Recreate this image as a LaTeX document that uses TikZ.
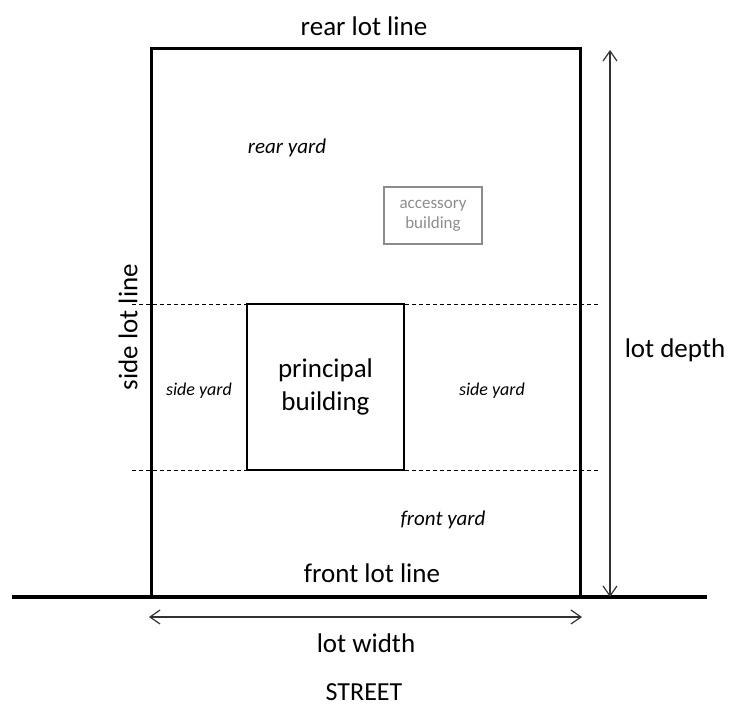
\documentclass[tikz,border=0pt]{standalone}
\usepackage{fontspec}
\setmainfont{Carlito}
\usepackage{tikz}
\usetikzlibrary{arrows.meta}
\definecolor{accgray}{RGB}{140,140,140}
\definecolor{dimgray}{RGB}{50,50,50}
\tikzstyle{lotline} = [line width=3pt]
\tikzstyle{dimarrow} = [line width=1.2pt,color=dimgray,{Straight Barb[length=10pt,width=14pt]}-{Straight Barb[length=10pt,width=14pt]}]
\tikzstyle{yardline} = [line width=0.9pt,dash pattern=on 4pt off 3pt]
\tikzstyle{bigtext} = [font=\fontsize{27}{33}\selectfont]
\tikzstyle{yardtext} = [font=\fontsize{21}{24}\selectfont\itshape]

\begin{document}
\begin{tikzpicture}[x=1pt,y=-1pt,line join=miter]
                \useasboundingbox (0,0) rectangle (747,709);
                % corners of the lot
                \coordinate (lotSW) at (151,597);
                \coordinate (lotNW) at (151,49);
                \coordinate (lotNE) at (580,49);
                \coordinate (lotSE) at (580,597);
                \coordinate (streetW) at (12,597);
                \coordinate (streetE) at (707,597);
                % yard limits
                \coordinate (rearW) at (132,304);
                \coordinate (rearE) at (600,304);
                \coordinate (frontW) at (132,470);
                \coordinate (frontE) at (600,470);
                % dimension ends
                \coordinate (depthT) at (610,50);
                \coordinate (depthB) at (610,597);
                \coordinate (widthL) at (149,617);
                \coordinate (widthR) at (582,617);

                \draw [lotline] (lotSW) -- (lotNW) -- (lotNE) -- (lotSE);
                \draw [line width=4pt] (streetW) -- (streetE);
                \draw [yardline] (rearW) -- (rearE);
                \draw [yardline] (frontW) -- (frontE);
                \draw [dimarrow] (depthT) -- (depthB);
                \draw [dimarrow] (widthL) -- (widthR);

                \node [draw,fill=white,line width=2pt,minimum width=157pt,minimum height=166pt,align=center,bigtext] (principal) at (325.5,387) {principal\\building};
                \node [draw=accgray,text=accgray,line width=1.8pt,minimum width=98pt,minimum height=57pt,align=center,font=\fontsize{17}{20}\selectfont] (accessory) at (433,215.5) {accessory\\building};

                \node [bigtext] (rearlot) at (364,26) {rear lot line};
                \node [bigtext] (frontlot) at (372,573) {front lot line};
                \node [bigtext,rotate=90] (sidelot) at (128,327) {side lot line};
                \node [bigtext] (depth) at (675,350) {lot depth};
                \node [bigtext] (width) at (366,643) {lot width};
                \node [inner sep=0pt,font=\fontsize{26}{30}\selectfont] (street) at (364,692) {STREET};

                \node [yardtext] (rearyard) at (287,148) {rear yard};
                \node [yardtext] (frontyard) at (443,520) {front yard};
                \node [yardtext,font=\fontsize{18}{22}\selectfont\itshape] (sideyardW) at (199,391) {side yard};
                \node [yardtext,font=\fontsize{18}{22}\selectfont\itshape] (sideyardE) at (492,391) {side yard};
\end{tikzpicture}
\end{document}
